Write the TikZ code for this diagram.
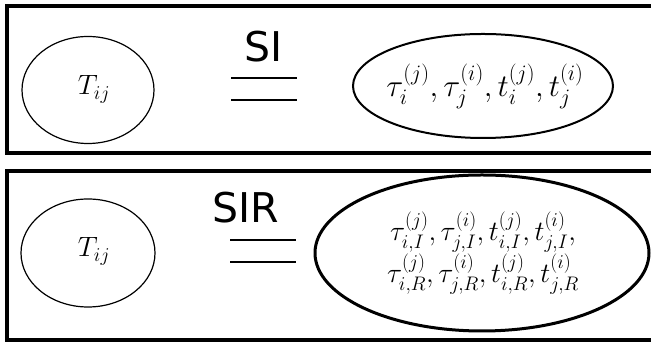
\RequirePackage{fix-cm}
\documentclass[tikz,border=0pt]{standalone}
\usepackage{amsmath}
\usepackage{fontspec}
\setsansfont{DejaVu Sans}
\usetikzlibrary{shapes.geometric,positioning}

\begin{document}
\begin{tikzpicture}[x=1pt, y=1pt,
                    frame/.style={draw, line width=4pt},
                    blob/.style={draw, ellipse, inner sep=0pt},
                    model/.style={font=\fontsize{41}{41}\sffamily, anchor=base, inner sep=0pt},
                    var/.style={font=\fontsize{28}{28}\selectfont, anchor=base, inner sep=0pt},
                    bar/.style={line width=1.6pt}]
    \useasboundingbox (0,0) rectangle (651,344);
    \clip (0,0) rectangle (651,344);

    % upper panel: SI
    \draw[frame] (680,338) -- (6.5,338) -- (6.5,190.5) -- (680,190.5);
    \node[blob, line width=1.2pt, minimum width=132pt, minimum height=107pt] (tsi) at (88,254) {};
    \node[var] (tsitxt) at (94,249) {$T_{ij}$};
    \node[model] (si) at (263.5,282) {SI};
    \draw[bar] (231,266) -- (297,266);
    \draw[bar] (231,244) -- (297,244);
    \node[blob, line width=2pt, minimum width=260pt, minimum height=104pt] (vsi) at (483,258) {};
    \node[font=\fontsize{31.5}{31.5}\selectfont, inner sep=0pt] (vsitxt) at (485,258)
          {$\tau_i^{(j)},\tau_j^{(i)},t_i^{(j)},t_j^{(i)}$};

    % lower panel: SIR
    \draw[frame] (680,172.5) -- (6.5,172.5) -- (6.5,4) -- (680,4);
    \node[blob, line width=1.2pt, minimum width=134pt, minimum height=108pt] (tsir) at (88,91) {};
    \node[var] (tsirtxt) at (94,87) {$T_{ij}$};
    \node[model] (sir) at (246,121) {SIR};
    \draw[bar] (230,104) -- (296,104);
    \draw[bar] (230,82) -- (296,82);
    \node[blob, line width=3pt, minimum width=334pt, minimum height=156pt] (vsir) at (482,91) {};
    \node[align=center, font=\fontsize{28}{38}\selectfont, inner sep=0pt] (vsirtxt) at (483,91)
          {$\tau_{i,I}^{(j)},\tau_{j,I}^{(i)},t_{i,I}^{(j)},t_{j,I}^{(i)},$\\
           $\tau_{i,R}^{(j)},\tau_{j,R}^{(i)},t_{i,R}^{(j)},t_{j,R}^{(i)}$};
\end{tikzpicture}
\end{document}
